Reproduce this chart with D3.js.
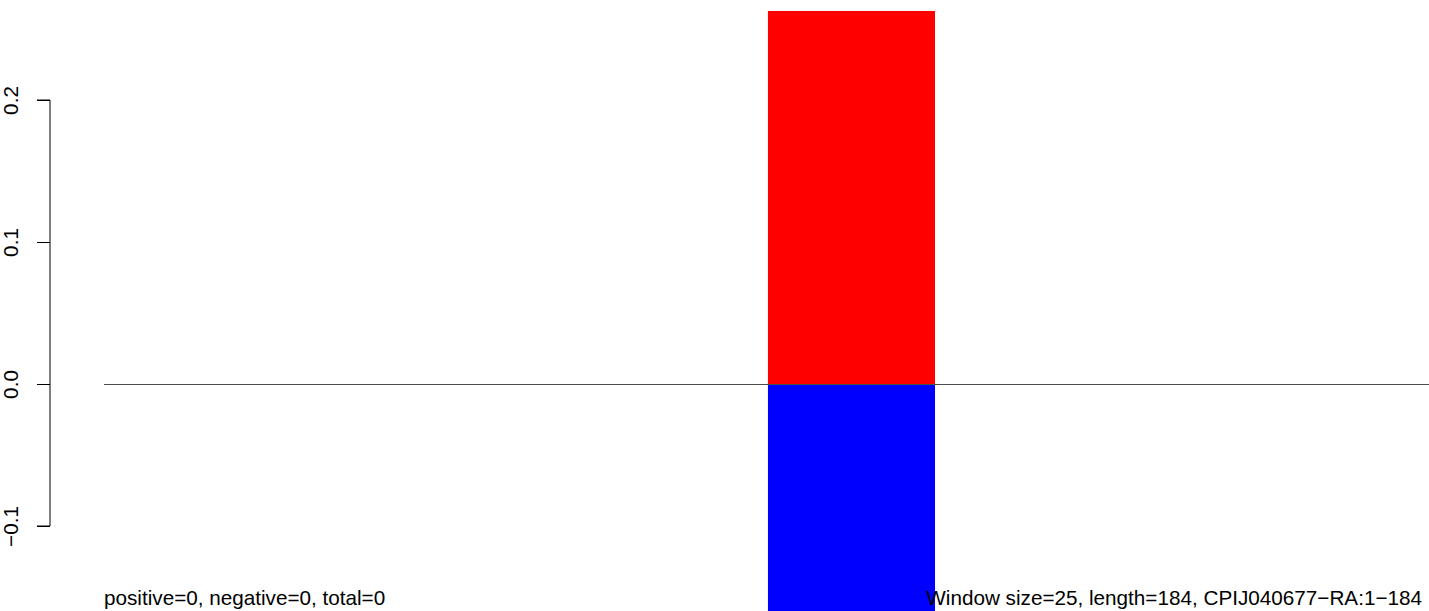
<!DOCTYPE html>
<html><head><meta charset="utf-8">
<script src="https://cdn.jsdelivr.net/npm/d3@7"></script>
<style>body{margin:0;background:#fff}svg{display:block}text{font-family:"Liberation Sans",Arial,Helvetica,sans-serif}</style>
</head><body>
<script>
const yTicks = [-0.1, 0.0, 0.1, 0.2];
const barStart = [92.2];
const barEnd = [115.4];
const posValues = [0.2627];
const negValues = [-0.16];
const seqLength = 184;
const leftLabel = "positive=0, negative=0, total=0";
const rightLabel = "Window size=25, length=184, CPIJ040677\u2212RA:1\u2212184";

const W = 1429, H = 611;
const svg = d3.select("body").append("svg").attr("width", W).attr("height", H);
const y = d3.scaleLinear().domain([-0.1, 0.2]).range([526, 100]);
const x = d3.scaleLinear().domain([0, seqLength]).range([104, 1429]);

// bars
svg.selectAll("rect.pos").data(posValues).enter().append("rect")
  .attr("x", (d,i)=>x(barStart[i])).attr("width",(d,i)=>x(barEnd[i])-x(barStart[i]))
  .attr("y", d=>y(d)).attr("height", d=>y(0)-y(d)).attr("fill","#ff0000");
svg.selectAll("rect.neg").data(negValues).enter().append("rect")
  .attr("x", (d,i)=>x(barStart[i])).attr("width",(d,i)=>x(barEnd[i])-x(barStart[i]))
  .attr("y", y(0)).attr("height", d=>y(d)-y(0)).attr("fill","#0000ff");

// zero line
svg.append("line").attr("x1", x(0)).attr("x2", x(seqLength)).attr("y1", y(0)+0.5).attr("y2", y(0)+0.5)
  .attr("stroke","#4d4d4d").attr("stroke-width",1).attr("shape-rendering","crispEdges");

// axis
const ax = svg.append("g").attr("transform","translate(50,0)")
  .call(d3.axisLeft(y).tickValues(yTicks).tickSize(13).tickFormat(d=>d3.format(".1f")(d).replace("-","\u2212")));
ax.select(".domain").attr("stroke","#000").attr("d", `M-13,${y(0.2)}H0V${y(-0.1)}H-13`);
ax.selectAll(".tick line").attr("stroke","#000");
ax.selectAll(".tick text").attr("font-size",20.7).attr("fill","#000")
  .attr("text-anchor","middle").attr("dy",0)
  .attr("transform", function(d){ return `translate(${-32},${0}) rotate(-90)`; })
  .attr("x",0).attr("y",0);

// bottom texts
svg.append("text").attr("x",104).attr("y",605).attr("font-size",20.7).text(leftLabel);
svg.append("text").attr("x",1422).attr("y",605).attr("font-size",20.7).attr("text-anchor","end").text(rightLabel);
</script>
</body></html>
